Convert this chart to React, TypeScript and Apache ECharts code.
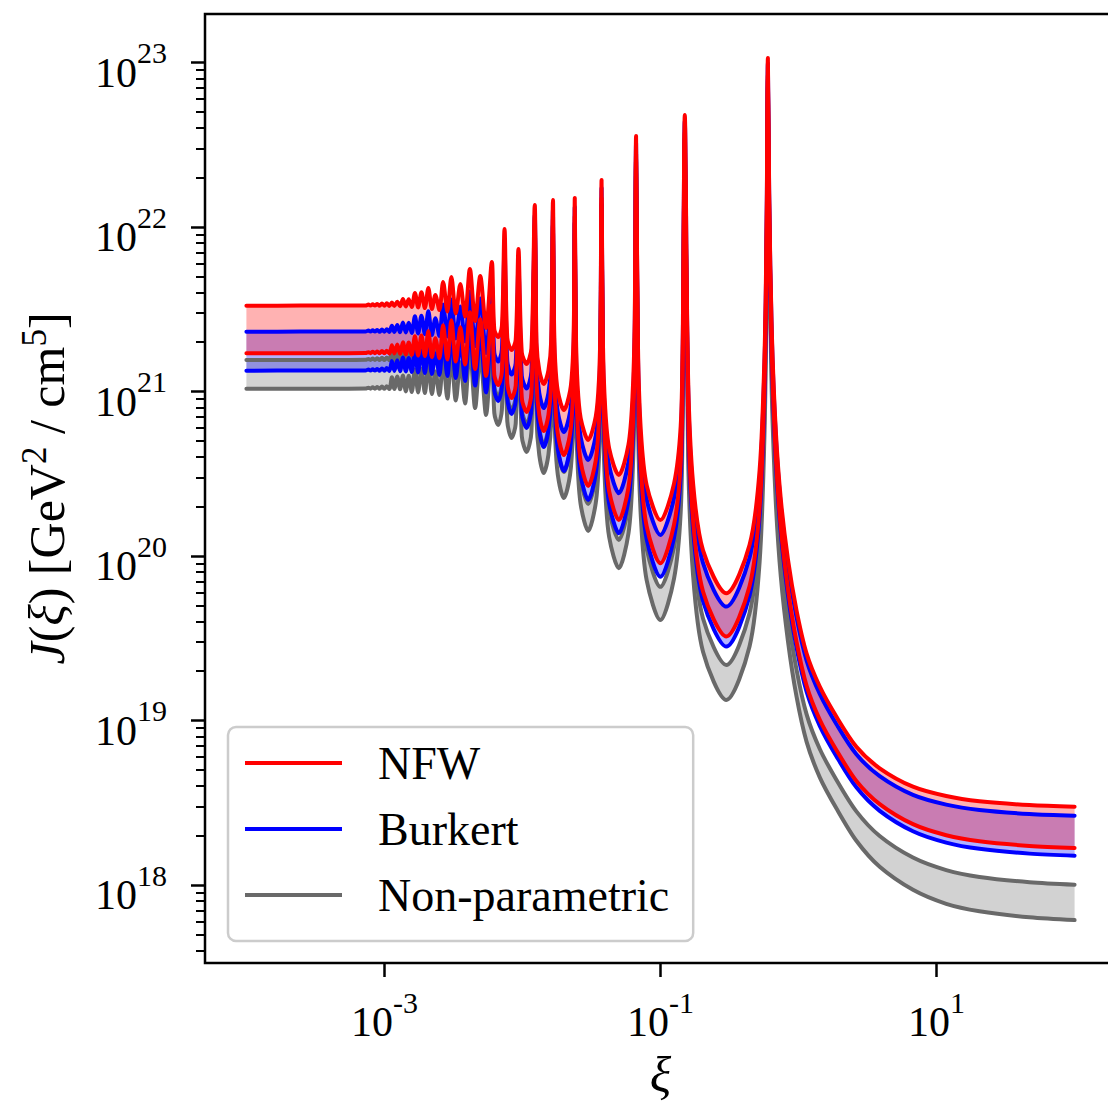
import React, { useEffect, useRef } from "react";
import * as echarts from "echarts";

// log10(xi) sample positions
const logXi = [
  -4.0, -3.608, -3.318, -3.137, -3.116, -3.101, -3.085, -3.069, -3.052, -3.035,
  -3.018, -3.0, -2.983, -2.964, -2.946, -2.928, -2.907, -2.887, -2.866, -2.845,
  -2.824, -2.802, -2.779, -2.756, -2.732, -2.707, -2.682, -2.656, -2.631, -2.602,
  -2.575, -2.544, -2.515, -2.483, -2.45, -2.416, -2.381, -2.343, -2.306, -2.264,
  -2.222, -2.204, -2.176, -2.149, -2.13, -2.11, -2.079, -2.049, -2.029, -2.005,
  -1.97, -1.935, -1.911, -1.898, -1.878, -1.846, -1.812, -1.792, -1.779, -1.772,
  -1.763, -1.744, -1.7, -1.655, -1.636, -1.627, -1.621, -1.613, -1.601, -1.578,
  -1.524, -1.469, -1.446, -1.435, -1.427, -1.417, -1.401, -1.372, -1.302, -1.232,
  -1.203, -1.187, -1.177, -1.163, -1.142, -1.1, -1.001, -0.902, -0.854, -0.839,
  -0.824, -0.8, -0.764, -0.692, -0.523, -0.355, -0.282, -0.246, -0.231, -0.222,
  -0.212, -0.194, -0.165, -0.128, -0.076, -0.015, 0.058, 0.154, 0.275, 0.419,
  0.588, 0.829, 1.07, 1.311, 1.673, 2.0,
];

// log10 J, NFW upper / lower
const nfwHi = [
  21.522, 21.523, 21.523, 21.524, 21.529, 21.523, 21.531, 21.523, 21.533, 21.522,
  21.536, 21.522, 21.538, 21.521, 21.542, 21.521, 21.547, 21.519, 21.563, 21.518,
  21.561, 21.515, 21.6, 21.512, 21.604, 21.508, 21.63, 21.502, 21.588, 21.496,
  21.667, 21.487, 21.697, 21.475, 21.654, 21.457, 21.746, 21.429, 21.703, 21.387,
  21.788, 21.378, 21.332, 21.398, 21.989, 21.327, 21.253, 21.314, 21.867, 21.238,
  21.168, 21.265, 22.135, 21.297, 21.128, 21.046, 21.13, 21.304, 22.165, 21.463,
  21.182, 21.003, 20.888, 21.004, 21.185, 21.468, 22.177, 21.368, 21.044, 20.838,
  20.706, 20.848, 21.069, 21.417, 22.287, 21.3, 20.906, 20.655, 20.493, 20.678,
  20.967, 21.421, 22.554, 21.27, 20.756, 20.43, 20.219, 20.441, 20.786, 21.328,
  22.682, 21.083, 20.443, 20.035, 19.774, 20.067, 20.522, 21.239, 22.052, 23.029,
  22.165, 21.375, 20.767, 20.341, 19.976, 19.672, 19.409, 19.206, 19.023, 18.841,
  18.71, 18.598, 18.541, 18.509, 18.486, 18.476,
];
const nfwLo = [
  21.233, 21.234, 21.234, 21.235, 21.24, 21.234, 21.242, 21.234, 21.244, 21.233,
  21.247, 21.233, 21.249, 21.232, 21.282, 21.232, 21.287, 21.23, 21.3, 21.226,
  21.298, 21.223, 21.337, 21.22, 21.341, 21.216, 21.367, 21.21, 21.325, 21.204,
  21.404, 21.195, 21.434, 21.183, 21.391, 21.165, 21.483, 21.137, 21.44, 21.095,
  21.525, 21.101, 21.04, 21.121, 21.785, 21.05, 20.961, 21.037, 21.663, 20.961,
  20.876, 20.988, 22.018, 21.051, 20.856, 20.76, 20.858, 21.058, 22.051, 21.263,
  20.946, 20.743, 20.614, 20.744, 20.949, 21.268, 22.067, 21.164, 20.803, 20.572,
  20.426, 20.582, 20.828, 21.213, 22.175, 21.1, 20.67, 20.395, 20.219, 20.418,
  20.731, 21.221, 22.444, 21.078, 20.53, 20.18, 19.956, 20.191, 20.56, 21.136,
  22.577, 20.891, 20.217, 19.785, 19.511, 19.817, 20.296, 21.047, 21.899, 22.924,
  22.06, 21.237, 20.609, 20.17, 19.795, 19.481, 19.213, 19.005, 18.82, 18.633,
  18.492, 18.37, 18.303, 18.266, 18.238, 18.225,
];

// log10 J, Burkert upper / lower
const burHi = [
  21.364, 21.365, 21.365, 21.366, 21.371, 21.365, 21.373, 21.365, 21.375, 21.364,
  21.377, 21.364, 21.379, 21.363, 21.4, 21.363, 21.405, 21.361, 21.421, 21.36,
  21.419, 21.357, 21.458, 21.354, 21.462, 21.35, 21.488, 21.344, 21.446, 21.338,
  21.53, 21.335, 21.56, 21.323, 21.517, 21.305, 21.609, 21.277, 21.566, 21.235,
  21.651, 21.236, 21.183, 21.256, 21.885, 21.185, 21.104, 21.172, 21.763, 21.096,
  21.019, 21.123, 22.075, 21.171, 20.989, 20.9, 20.991, 21.178, 22.107, 21.365,
  21.067, 20.876, 20.754, 20.877, 21.07, 21.37, 22.123, 21.279, 20.939, 20.722,
  20.584, 20.732, 20.964, 21.328, 22.238, 21.219, 20.811, 20.55, 20.382, 20.573,
  20.872, 21.34, 22.51, 21.204, 20.678, 20.344, 20.128, 20.355, 20.708, 21.262,
  22.646, 21.024, 20.373, 19.958, 19.693, 19.99, 20.452, 21.18, 22.005, 22.997,
  22.142, 21.345, 20.732, 20.304, 19.936, 19.63, 19.366, 19.162, 18.978, 18.795,
  18.662, 18.548, 18.489, 18.456, 18.432, 18.421,
];
const burLo = [
  21.127, 21.128, 21.128, 21.129, 21.134, 21.128, 21.136, 21.128, 21.138, 21.127,
  21.141, 21.127, 21.143, 21.126, 21.186, 21.126, 21.191, 21.124, 21.207, 21.123,
  21.205, 21.12, 21.244, 21.117, 21.248, 21.113, 21.274, 21.107, 21.232, 21.101,
  21.314, 21.095, 21.344, 21.083, 21.301, 21.065, 21.393, 21.037, 21.35, 20.995,
  21.435, 21.008, 20.943, 21.028, 21.717, 20.957, 20.864, 20.944, 21.595, 20.868,
  20.779, 20.895, 21.979, 20.968, 20.764, 20.663, 20.766, 20.975, 22.012, 21.192,
  20.863, 20.651, 20.517, 20.652, 20.866, 21.197, 22.029, 21.102, 20.73, 20.491,
  20.341, 20.501, 20.755, 21.151, 22.141, 21.042, 20.602, 20.319, 20.139, 20.342,
  20.663, 21.163, 22.412, 21.018, 20.459, 20.102, 19.874, 20.113, 20.489, 21.076,
  22.544, 20.846, 20.164, 19.727, 19.45, 19.759, 20.243, 21.002, 21.864, 22.899,
  22.04, 21.211, 20.579, 20.138, 19.761, 19.446, 19.177, 18.968, 18.782, 18.594,
  18.451, 18.327, 18.258, 18.22, 18.191, 18.178,
];

// log10 J, Non-parametric upper / lower
const npHi = [
  21.192, 21.193, 21.193, 21.194, 21.199, 21.193, 21.201, 21.193, 21.203, 21.192,
  21.206, 21.192, 21.208, 21.191, 21.245, 21.191, 21.25, 21.189, 21.256, 21.177,
  21.254, 21.174, 21.293, 21.171, 21.297, 21.167, 21.323, 21.161, 21.281, 21.155,
  21.349, 21.134, 21.379, 21.122, 21.336, 21.104, 21.428, 21.076, 21.385, 21.034,
  21.47, 21.031, 20.967, 21.051, 21.733, 20.98, 20.888, 20.967, 21.611, 20.891,
  20.803, 20.918, 21.989, 20.978, 20.776, 20.675, 20.778, 20.985, 22.017, 21.188,
  20.858, 20.645, 20.511, 20.646, 20.861, 21.193, 22.026, 21.084, 20.709, 20.468,
  20.317, 20.478, 20.734, 21.133, 22.131, 21.012, 20.566, 20.28, 20.098, 20.303,
  20.627, 21.133, 22.396, 20.974, 20.407, 20.044, 19.813, 20.055, 20.437, 21.032,
  22.52, 20.765, 20.068, 19.621, 19.338, 19.653, 20.147, 20.921, 21.799, 22.855,
  21.966, 21.114, 20.468, 20.019, 19.635, 19.312, 19.039, 18.827, 18.639, 18.448,
  18.298, 18.167, 18.091, 18.049, 18.017, 18.002,
];
const npLo = [
  21.017, 21.018, 21.018, 21.019, 21.024, 21.018, 21.026, 21.018, 21.028, 21.017,
  21.031, 21.017, 21.033, 21.016, 21.087, 21.016, 21.092, 21.014, 21.098, 21.001,
  21.096, 20.998, 21.135, 20.995, 21.139, 20.991, 21.165, 20.985, 21.123, 20.979,
  21.191, 20.958, 21.221, 20.946, 21.178, 20.928, 21.27, 20.9, 21.227, 20.858,
  21.312, 20.87, 20.797, 20.89, 21.614, 20.819, 20.718, 20.806, 21.492, 20.73,
  20.633, 20.757, 21.921, 20.832, 20.614, 20.505, 20.616, 20.839, 21.949, 21.072,
  20.722, 20.495, 20.353, 20.496, 20.725, 21.077, 21.963, 20.964, 20.568, 20.313,
  20.153, 20.323, 20.593, 21.013, 22.066, 20.886, 20.418, 20.116, 19.926, 20.139,
  20.479, 21.007, 22.327, 20.826, 20.233, 19.852, 19.611, 19.863, 20.263, 20.884,
  22.439, 20.609, 19.885, 19.418, 19.125, 19.45, 19.964, 20.765, 21.676, 22.769,
  21.876, 20.996, 20.333, 19.872, 19.48, 19.148, 18.872, 18.655, 18.465, 18.269,
  18.111, 17.971, 17.886, 17.841, 17.804, 17.787,
];

const xTickExps = [-3, -1, 1];
const yTickExps = [18, 19, 20, 21, 22, 23];
const legendNames = ["NFW", "Burkert", "Non-parametric"];

const X_MIN = -4.3;
const X_MAX = 2.3;
const Y_MIN = 17.526;
const Y_MAX = 23.296;

const FONT = "Liberation Serif";
const SMOOTH = 0.3;
const LINE_W = 4;

function minorTicks(): number[] {
  const out: number[] = [];
  for (let n = 17; n <= 23; n++) {
    for (let k = 2; k <= 9; k++) {
      const v = n + Math.log10(k);
      if (v > Y_MIN && v < Y_MAX) out.push(v);
    }
  }
  return out;
}

const tickRich = {
  b: { fontFamily: FONT, fontSize: 42, lineHeight: 42, color: "#000", verticalAlign: "bottom" },
  s: {
    fontFamily: FONT,
    fontSize: 30,
    lineHeight: 30,
    color: "#000",
    verticalAlign: "bottom",
    padding: [0, 0, 26, 0],
  },
};

function band(
  name: string,
  key: string,
  hi: number[],
  lo: number[],
  lineColor: string,
  fillColor: string
) {
  // stacked pair: value first so that the stacked dimension is the y value
  const base = {
    type: "line",
    name: key + "-base",
    stack: key,
    data: logXi.map((x, i) => [lo[i], x]),
    encode: { x: 1, y: 0 },
    symbol: "none",
    smooth: SMOOTH,
    lineStyle: { width: 0, opacity: 0 },
    silent: true,
  };
  const fill = {
    type: "line",
    name: key + "-fill",
    stack: key,
    data: logXi.map((x, i) => [hi[i] - lo[i], x]),
    encode: { x: 1, y: 0 },
    symbol: "none",
    smooth: SMOOTH,
    lineStyle: { width: 0, opacity: 0 },
    areaStyle: { color: fillColor, opacity: 1 },
    silent: true,
  };
  const mkLine = (vals: number[]) => ({
    type: "line",
    name,
    data: logXi.map((x, i) => [x, vals[i]]),
    symbol: "none",
    smooth: SMOOTH,
    color: lineColor,
    itemStyle: { color: lineColor },
    lineStyle: { width: LINE_W, color: lineColor, join: "round", cap: "round" },
  });
  return [base, fill, mkLine(hi), mkLine(lo)];
}

export default function App() {
  const ref = useRef<HTMLDivElement>(null);
  useEffect(() => {
    if (!ref.current) return;
    const chart = echarts.init(ref.current, undefined, { renderer: "svg" });
    const option: any = {
      animation: false,
      backgroundColor: "#fff",
      grid: {
        left: 205,
        top: 14,
        width: 911,
        height: 949,
        containLabel: false,
        outerBoundsMode: "none",
        show: true,
        borderColor: "#000",
        borderWidth: 2.5,
        backgroundColor: "transparent",
      },
      legend: {
        data: legendNames,
        orient: "vertical",
        left: 228,
        top: 727,
        icon: "rect",
        itemWidth: 97,
        itemHeight: 4,
        itemGap: 20,
        padding: [13, 24, 23, 17],
        backgroundColor: "#fff",
        borderColor: "#cccccc",
        borderWidth: 2.5,
        borderRadius: 8,
        selectedMode: false,
        textStyle: {
          fontFamily: FONT,
          fontSize: 46,
          lineHeight: 46,
          color: "#000",
          padding: [0, 0, 0, 31],
        },
      },
      xAxis: [
        {
          type: "value",
          min: X_MIN,
          max: X_MAX,
          position: "bottom",
          axisLine: { show: false, onZero: false },
          splitLine: { show: false },
          axisTick: {
            show: true,
            customValues: xTickExps,
            length: 14,
            lineStyle: { color: "#000", width: 2.5 },
          },
          axisLabel: {
            show: true,
            customValues: xTickExps,
            margin: 38,
            formatter: (v: number) => `{b|10}{s|${Math.round(v)}}`,
            rich: tickRich,
          },
          name: "ξ",
          nameLocation: "middle",
          nameGap: 87,
          nameTextStyle: {
            fontFamily: FONT,
            fontSize: 50,
            lineHeight: 50,
            fontStyle: "italic",
            color: "#000",
          },
        },
      ],
      yAxis: [
        {
          type: "value",
          min: Y_MIN,
          max: Y_MAX,
          position: "left",
          axisLine: { show: false, onZero: false },
          splitLine: { show: false },
          axisTick: {
            show: true,
            customValues: yTickExps,
            length: 14,
            lineStyle: { color: "#000", width: 2.5 },
          },
          axisLabel: {
            show: true,
            customValues: yTickExps,
            margin: 38,
            padding: [20, 0, 0, 0],
            formatter: (v: number) => `{b|10}{s|${Math.round(v)}}`,
            rich: tickRich,
          },
          name: "{i|J}{n|(}{i|ξ}{n|) [GeV}{p|2}{n| / cm}{p|5}{n|]}",
          nameLocation: "middle",
          nameRotate: 90,
          nameGap: 133,
          nameTextStyle: {
            color: "#000",
            rich: {
              n: { fontFamily: FONT, fontSize: 50, lineHeight: 50, color: "#000", verticalAlign: "bottom" },
              i: {
                fontFamily: FONT,
                fontSize: 50,
                lineHeight: 50,
                fontStyle: "italic",
                color: "#000",
                verticalAlign: "bottom",
              },
              p: {
                fontFamily: FONT,
                fontSize: 35,
                lineHeight: 35,
                color: "#000",
                verticalAlign: "bottom",
                padding: [0, 0, 20, 0],
              },
            },
          },
        },
        {
          type: "value",
          min: Y_MIN,
          max: Y_MAX,
          position: "left",
          axisLine: { show: false, onZero: false },
          splitLine: { show: false },
          axisLabel: { show: false },
          axisTick: {
            show: true,
            customValues: minorTicks(),
            length: 9,
            lineStyle: { color: "#000", width: 2 },
          },
        },
      ],
      series: [
        ...band("Non-parametric", "np", npHi, npLo, "#696969", "rgba(105,105,105,0.3)"),
        ...band("Burkert", "bur", burHi, burLo, "#0000ff", "rgba(0,0,255,0.3)"),
        ...band("NFW", "nfw", nfwHi, nfwLo, "#ff0000", "rgba(255,0,0,0.3)"),
      ],
    };
    chart.setOption(option);
    return () => chart.dispose();
  }, []);
  return (
    <div
      style={{
        position: "absolute",
        left: 0,
        top: 0,
        width: 1108,
        height: 1105,
        overflow: "hidden",
        background: "#fff",
      }}
    >
      <div ref={ref} style={{ width: 1125, height: 1105 }} />
    </div>
  );
}
